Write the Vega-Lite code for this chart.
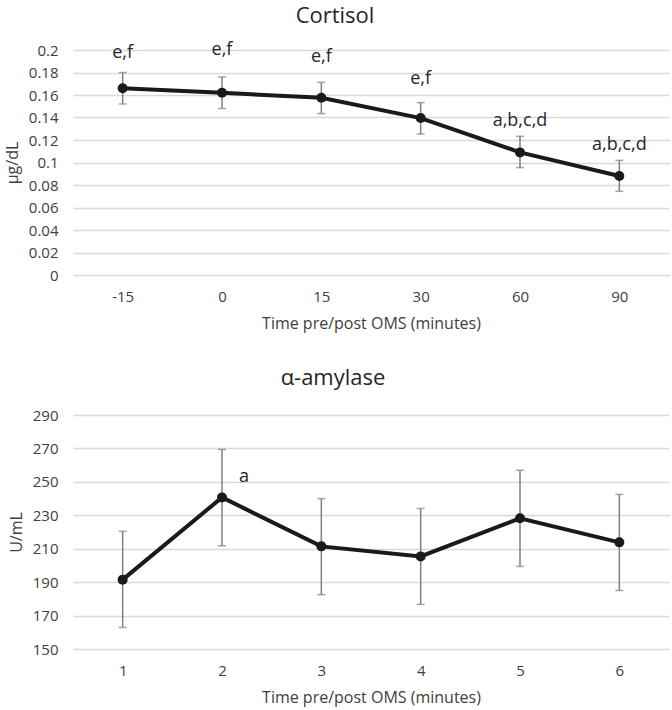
{
  "$schema": "https://vega.github.io/schema/vega-lite/v6.json",
  "background": "white",
  "padding": {"left": 4, "top": 5, "right": 4, "bottom": 2},
  "spacing": 36,
  "config": {
    "font": "Open Sans",
    "view": {"stroke": null},
    "axis": {
      "domain": false,
      "ticks": false,
      "grid": false,
      "labelColor": "#404040",
      "labelFontSize": 15,
      "labelOverlap": false,
      "titleColor": "#404040",
      "titleFontSize": 16,
      "titleFontWeight": "normal"
    },
    "axisY": {"grid": true, "gridColor": "#d9d9d9", "gridWidth": 1.5, "labelPadding": 15, "titlePadding": 8},
    "axisX": {"labelPadding": 14, "titlePadding": 11, "labelAngle": 0},
    "title": {"fontSize": 22, "fontWeight": "normal", "color": "#262626", "anchor": "middle"}
  },
  "vconcat": [
    {
      "title": {"text": "Cortisol", "offset": 13, "dx": -36},
      "width": 596,
      "height": 225,
      "data": {
        "values": [
          {"time": "-15", "mean": 0.166, "lo": 0.152, "hi": 0.180, "label": "e,f", "labelY": 0.1975},
          {"time": "0", "mean": 0.162, "lo": 0.148, "hi": 0.176, "label": "e,f", "labelY": 0.200},
          {"time": "15", "mean": 0.1575, "lo": 0.1435, "hi": 0.1713, "label": "e,f", "labelY": 0.1935},
          {"time": "30", "mean": 0.1395, "lo": 0.1253, "hi": 0.1532, "label": "e,f", "labelY": 0.1742},
          {"time": "60", "mean": 0.109, "lo": 0.0954, "hi": 0.1233, "label": "a,b,c,d", "labelY": 0.1372},
          {"time": "90", "mean": 0.088, "lo": 0.0744, "hi": 0.1019, "label": "a,b,c,d", "labelY": 0.1158}
        ]
      },
      "encoding": {
        "x": {
          "field": "time",
          "type": "ordinal",
          "sort": ["-15", "0", "15", "30", "60", "90"],
          "scale": {"type": "point", "padding": 0.5},
          "axis": {"title": "Time pre/post OMS (minutes)"}
        }
      },
      "layer": [
        {
          "mark": {"type": "rule", "color": "#808080", "strokeWidth": 1.5},
          "encoding": {
            "y": {"field": "lo", "type": "quantitative", "scale": {"domain": [0, 0.2], "nice": false}, "axis": {"title": "µg/dL", "values": [0, 0.02, 0.04, 0.06, 0.08, 0.1, 0.12, 0.14, 0.16, 0.18, 0.2], "format": "~g"}},
            "y2": {"field": "hi"}
          }
        },
        {
          "mark": {"type": "tick", "color": "#808080", "thickness": 1.5, "size": 8},
          "encoding": {"y": {"field": "lo", "type": "quantitative", "axis": {"title": "µg/dL", "values": [0, 0.02, 0.04, 0.06, 0.08, 0.1, 0.12, 0.14, 0.16, 0.18, 0.2], "format": "~g"}}}
        },
        {
          "mark": {"type": "tick", "color": "#808080", "thickness": 1.5, "size": 8},
          "encoding": {"y": {"field": "hi", "type": "quantitative", "axis": {"title": "µg/dL", "values": [0, 0.02, 0.04, 0.06, 0.08, 0.1, 0.12, 0.14, 0.16, 0.18, 0.2], "format": "~g"}}}
        },
        {
          "mark": {"type": "line", "color": "#1a1a1a", "strokeWidth": 4},
          "encoding": {"y": {"field": "mean", "type": "quantitative", "axis": {"title": "µg/dL", "values": [0, 0.02, 0.04, 0.06, 0.08, 0.1, 0.12, 0.14, 0.16, 0.18, 0.2], "format": "~g"}}}
        },
        {
          "mark": {"type": "point", "filled": true, "color": "#1a1a1a", "size": 100, "opacity": 1},
          "encoding": {"y": {"field": "mean", "type": "quantitative", "axis": {"title": "µg/dL", "values": [0, 0.02, 0.04, 0.06, 0.08, 0.1, 0.12, 0.14, 0.16, 0.18, 0.2], "format": "~g"}}}
        },
        {
          "mark": {"type": "text", "fontSize": 18, "color": "#262626", "baseline": "middle"},
          "encoding": {"y": {"field": "labelY", "type": "quantitative", "axis": {"title": "µg/dL", "values": [0, 0.02, 0.04, 0.06, 0.08, 0.1, 0.12, 0.14, 0.16, 0.18, 0.2], "format": "~g"}}, "text": {"field": "label"}}
        }
      ]
    },
    {
      "title": {"text": "α-amylase", "offset": 18, "dx": -38},
      "width": 596,
      "height": 234,
      "data": {
        "values": [
          {"time": "1", "mean": 191.5, "lo": 162.9, "hi": 220.4, "label": ""},
          {"time": "2", "mean": 240.7, "lo": 211.8, "hi": 269.4, "label": "a"},
          {"time": "3", "mean": 211.4, "lo": 182.5, "hi": 240.0, "label": ""},
          {"time": "4", "mean": 205.4, "lo": 176.7, "hi": 234.1, "label": ""},
          {"time": "5", "mean": 228.2, "lo": 199.4, "hi": 256.9, "label": ""},
          {"time": "6", "mean": 213.8, "lo": 185.0, "hi": 242.5, "label": ""}
        ]
      },
      "encoding": {
        "x": {
          "field": "time",
          "type": "ordinal",
          "sort": ["1", "2", "3", "4", "5", "6"],
          "scale": {"type": "point", "padding": 0.5},
          "axis": {"title": "Time pre/post OMS (minutes)"}
        }
      },
      "layer": [
        {
          "mark": {"type": "rule", "color": "#808080", "strokeWidth": 1.5},
          "encoding": {
            "y": {"field": "lo", "type": "quantitative", "scale": {"domain": [150, 290], "nice": false}, "axis": {"title": "U/mL", "values": [150, 170, 190, 210, 230, 250, 270, 290]}},
            "y2": {"field": "hi"}
          }
        },
        {
          "mark": {"type": "tick", "color": "#808080", "thickness": 1.5, "size": 8},
          "encoding": {"y": {"field": "lo", "type": "quantitative", "axis": {"title": "U/mL", "values": [150, 170, 190, 210, 230, 250, 270, 290]}}}
        },
        {
          "mark": {"type": "tick", "color": "#808080", "thickness": 1.5, "size": 8},
          "encoding": {"y": {"field": "hi", "type": "quantitative", "axis": {"title": "U/mL", "values": [150, 170, 190, 210, 230, 250, 270, 290]}}}
        },
        {
          "mark": {"type": "line", "color": "#1a1a1a", "strokeWidth": 4},
          "encoding": {"y": {"field": "mean", "type": "quantitative", "axis": {"title": "U/mL", "values": [150, 170, 190, 210, 230, 250, 270, 290]}}}
        },
        {
          "mark": {"type": "point", "filled": true, "color": "#1a1a1a", "size": 100, "opacity": 1},
          "encoding": {"y": {"field": "mean", "type": "quantitative", "axis": {"title": "U/mL", "values": [150, 170, 190, 210, 230, 250, 270, 290]}}}
        },
        {
          "mark": {"type": "text", "fontSize": 18, "color": "#262626", "baseline": "middle", "dx": 22, "dy": -20},
          "encoding": {"y": {"field": "mean", "type": "quantitative", "axis": {"title": "U/mL", "values": [150, 170, 190, 210, 230, 250, 270, 290]}}, "text": {"field": "label"}}
        }
      ]
    }
  ]
}
